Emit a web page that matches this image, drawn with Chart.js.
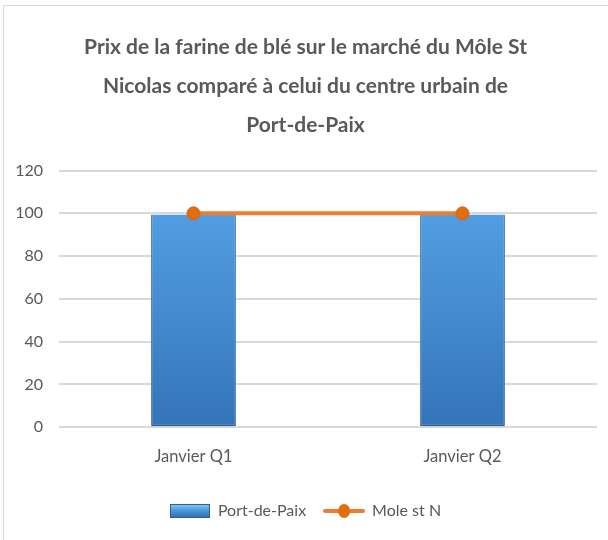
<!DOCTYPE html>
<html><head><meta charset="utf-8">
<script src="https://cdn.jsdelivr.net/npm/chart.js@4/dist/chart.umd.min.js"></script>
<style>
html,body{margin:0;padding:0;background:#fff;}
#wrap{position:absolute;left:3px;top:5px;width:604px;height:535px;border-left:1px solid #d9d9d9;border-top:1px solid #d9d9d9;}
</style></head><body>
<div id="wrap"><canvas id="c"></canvas></div>
<script>
const categories = ["Janvier Q1", "Janvier Q2"];
const portDePaix = [99.5, 99.5];
const moleStN = [100, 100];
const seriesNames = ["Port-de-Paix", "Mole st N"];
const titleLines = ["Prix de la farine de blé sur le marché du Môle St", "Nicolas comparé à celui du centre urbain de", "Port-de-Paix"];

const FONT = "Lato, 'Liberation Sans', sans-serif";
const TXT = "#595959";

function barGradient(ctx, area){
  const g = ctx.createLinearGradient(0, area.top, 0, area.bottom);
  g.addColorStop(0, "#58a6ea");
  g.addColorStop(1, "#3474b8");
  return g;
}
function legendBar(){
  const c = document.createElement('canvas'); c.width = 40; c.height = 14;
  const x = c.getContext('2d');
  const g = x.createLinearGradient(0,0,0,14);
  g.addColorStop(0,"#8fd0f5"); g.addColorStop(0.4,"#4f9fe4"); g.addColorStop(1,"#2f6aa8");
  x.fillStyle = g; x.fillRect(0,0,40,14);
  x.strokeStyle = "#2f5f95"; x.lineWidth = 1; x.strokeRect(0.5,0.5,39,13);
  return c;
}
function legendLine(){
  const c = document.createElement('canvas'); c.width = 42; c.height = 16;
  const x = c.getContext('2d');
  x.strokeStyle = "#ED7D31"; x.lineWidth = 4; x.lineCap = "round";
  x.beginPath(); x.moveTo(2,8); x.lineTo(40,8); x.stroke();
  x.fillStyle = "#E46C0A"; x.beginPath(); x.ellipse(21,8,6,7,0,0,Math.PI*2); x.fill();
  return c;
}

const chart = new Chart(document.getElementById('c'), {
  data: {
    labels: categories,
    datasets: [
      {
        type: 'line', label: seriesNames[1], data: moleStN,
        borderColor: "#ED7D31", borderWidth: 4, backgroundColor: "#E46C0A",
        pointRadius: 6.5, pointBackgroundColor: "#E46C0A", pointBorderColor: "#D9661C", pointBorderWidth: 1,
        order: 0
      },
      {
        type: 'bar', label: seriesNames[0], data: portDePaix,
        backgroundColor: (ctx) => { const a = ctx.chart.chartArea; return a ? barGradient(ctx.chart.ctx, a) : "#4a90d9"; },
        borderColor: "#2f5f95", borderWidth: {left:1,right:1,top:0,bottom:2}, borderSkipped: false,
        barPercentage: 0.315, categoryPercentage: 1.0,
        order: 1
      }
    ]
  },
  options: {
    responsive: true, maintainAspectRatio: false, animation: false,
    layout: { padding: { left: 10, right: 11, top: 0, bottom: 12 } },
    plugins: {
      title: {
        display: true, text: titleLines, color: TXT,
        font: { family: FONT, size: 21, weight: 'bold', lineHeight: 1.85 },
        padding: { top: 22, bottom: 26 }
      },
      legend: {
        position: 'bottom',
        labels: {
          color: TXT, font: { family: FONT, size: 16 },
          usePointStyle: true, pointStyleWidth: 40, boxHeight: 14, padding: 18,
          generateLabels: (ch) => ch.data.datasets.map((d, i) => ({
            text: d.label, datasetIndex: i, fontColor: TXT, hidden: false,
            pointStyle: d.type === 'bar' ? legendBar() : legendLine()
          })).reverse()
        }
      },
      tooltip: { enabled: false }
    },
    scales: {
      x: {
        afterFit: (s) => { s.height += 6; },
        grid: { display: false }, border: { display: false },
        ticks: { color: TXT, font: { family: FONT, size: 16.5 }, padding: 12 }
      },
      y: {
        min: 0, max: 120,
        afterFit: (s) => { s.width = 45; },
        grid: { color: "#d9d9d9", lineWidth: 2, drawTicks: false },
        border: { display: false },
        ticks: { stepSize: 20, color: TXT, font: { family: FONT, size: 16 }, padding: 16 }
      }
    }
  }
});
</script>
</body></html>
